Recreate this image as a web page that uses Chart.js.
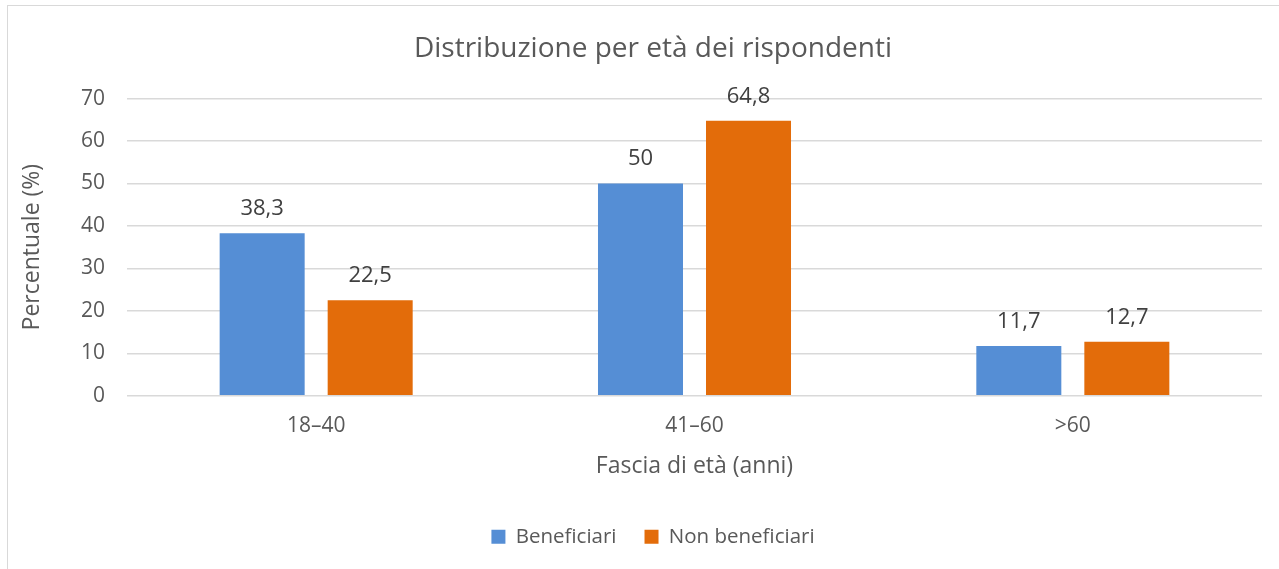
<!DOCTYPE html>
<html lang="it">
<head>
<meta charset="utf-8">
<title>Distribuzione per età dei rispondenti</title>
<script src="https://cdn.jsdelivr.net/npm/chart.js@4"></script>
<style>
    html, body { margin: 0; padding: 0; background: #fff; overflow: hidden; }
    .chart-wrap { position: absolute; left: 0; top: 0; width: 1279px; height: 569px; }
    .chart-frame { position: absolute; left: 7px; top: 5px; width: 1300px; height: 600px;
        border: 1px solid #d9d9d9; pointer-events: none; }
</style>
</head>
<body>
<div class="chart-wrap"><canvas id="ageChart" width="1279" height="569"></canvas></div>
<div class="chart-frame"></div>
<script>
// Data
const categories = ['18–40', '41–60', '>60'];
const beneficiari = [38.3, 50, 11.7];
const nonBeneficiari = [22.5, 64.8, 12.7];
const seriesLabels = ['Beneficiari', 'Non beneficiari'];
const yTicks = { min: 0, max: 70, step: 10 };

const textColor = '#595959';
const fontFamily = '"Open Sans", "Noto Sans", sans-serif';

// Value labels above bars (comma decimals)
const valueLabels = {
    id: 'valueLabels',
    afterDatasetsDraw(chart) {
        const ctx = chart.ctx;
        ctx.save();
        ctx.font = '22px ' + fontFamily;
        ctx.fillStyle = '#404040';
        ctx.textAlign = 'center';
        ctx.textBaseline = 'alphabetic';
        chart.data.datasets.forEach((ds, i) => {
            chart.getDatasetMeta(i).data.forEach((bar, j) => {
                const txt = String(ds.data[j]).replace('.', ',');
                ctx.fillText(txt, bar.x, bar.y - 18);
            });
        });
        ctx.restore();
    }
};

document.addEventListener('DOMContentLoaded', function() {
    const ctx = document.getElementById('ageChart');
    new Chart(ctx, {
        type: 'bar',
        data: {
            labels: categories,
            datasets: [
                {
                    label: seriesLabels[0],
                    data: beneficiari,
                    backgroundColor: '#558ed5'
                },
                {
                    label: seriesLabels[1],
                    data: nonBeneficiari,
                    backgroundColor: '#e36c0a'
                }
            ]
        },
        options: {
            responsive: false,
            animation: false,
            categoryPercentage: 0.571,
            barPercentage: 0.787,
            layout: {
                padding: { left: 44, right: 17, top: 0, bottom: 12 }
            },
            plugins: {
                title: {
                    display: true,
                    text: 'Distribuzione per età dei rispondenti',
                    color: textColor,
                    font: { family: fontFamily, size: 28, weight: 'normal' },
                    padding: { top: 32, bottom: 33 }
                },
                legend: {
                    position: 'bottom',
                    labels: {
                        color: textColor,
                        font: { family: fontFamily, size: 20.5 },
                        boxWidth: 14,
                        boxHeight: 14,
                        padding: 28
                    }
                },
                tooltip: { enabled: false }
            },
            scales: {
                x: {
                    grid: { display: false },
                    border: { display: false },
                    ticks: {
                        color: textColor,
                        font: { family: fontFamily, size: 21 },
                        padding: 10
                    },
                    title: {
                        display: true,
                        text: 'Fascia di età (anni)',
                        color: textColor,
                        font: { family: fontFamily, size: 23 },
                        padding: { top: 4, bottom: 18 }
                    }
                },
                y: {
                    min: yTicks.min,
                    max: yTicks.max,
                    afterFit: function(scale) { scale.width = 83; },
                    grid: { color: '#d9d9d9', lineWidth: 1.5, drawTicks: false },
                    border: { display: false },
                    ticks: {
                        stepSize: yTicks.step,
                        color: textColor,
                        font: { family: fontFamily, size: 21 },
                        padding: 22
                    },
                    title: {
                        display: true,
                        text: 'Percentuale (%)',
                        color: textColor,
                        font: { family: fontFamily, size: 23 },
                        padding: { top: -25, bottom: 0 }
                    }
                }
            }
        },
        plugins: [valueLabels]
    });
});
</script>
</body>
</html>
